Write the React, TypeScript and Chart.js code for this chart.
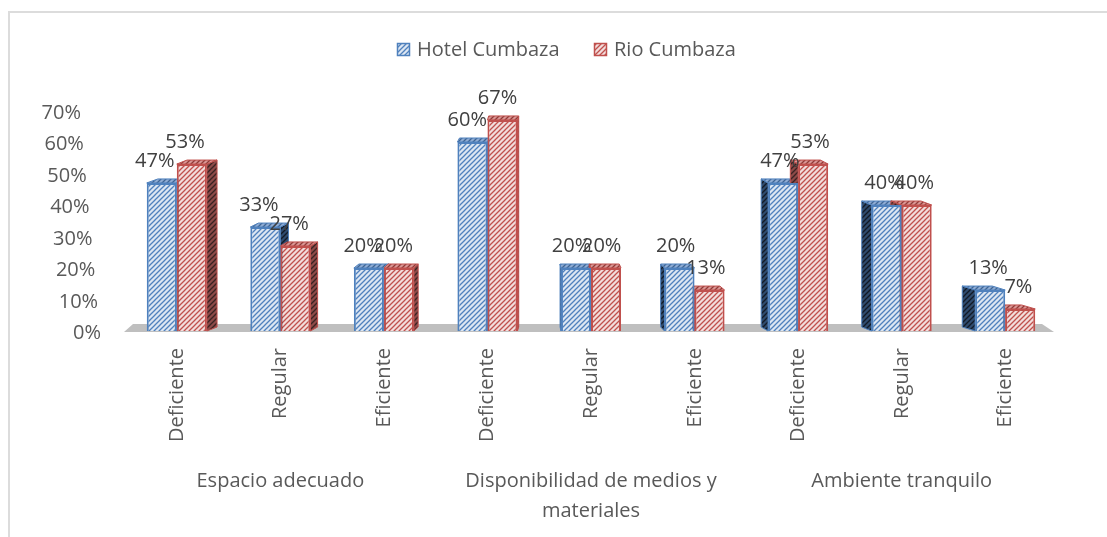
import React, { useEffect, useRef } from "react";
import { Chart, registerables } from "chart.js";

Chart.register(...registerables);

// ---------- data ----------
const categories = [
  "Deficiente", "Regular", "Eficiente",
  "Deficiente", "Regular", "Eficiente",
  "Deficiente", "Regular", "Eficiente",
];
const groupLabels = [
  ["Espacio adecuado"],
  ["Disponibilidad de medios y", "materiales"],
  ["Ambiente tranquilo"],
];
const seriesNames = ["Hotel Cumbaza", "Rio Cumbaza"];
const hotelValues = [47, 33, 20, 60, 20, 20, 47, 40, 13];
const rioValues = [53, 27, 20, 67, 20, 13, 53, 40, 7];
const yTicks = [0, 10, 20, 30, 40, 50, 60, 70];

// ---------- styles ----------
const FONT = '20px "Open Sans"';
const AXIS_COLOR = "#595959";
const LABEL_COLOR = "#404040";
const BLUE = "#4f81bd";
const RED = "#c0504d";
const VP = 545;
const K = 0.029;
const DY = 4;

function makePattern(bg: string, fg: string, size = 5, lw = 1.3): CanvasPattern {
  const c = document.createElement("canvas");
  c.width = size;
  c.height = size;
  const g = c.getContext("2d")!;
  g.fillStyle = bg;
  g.fillRect(0, 0, size, size);
  g.strokeStyle = fg;
  g.lineWidth = lw;
  g.beginPath();
  g.moveTo(-1, size + 1);
  g.lineTo(size + 1, -1);
  g.moveTo(-1, 1);
  g.lineTo(1, -1);
  g.moveTo(size - 1, size + 1);
  g.lineTo(size + 1, size - 1);
  g.stroke();
  return g.createPattern(c, "repeat")!;
}

export default function App() {
  const ref = useRef<HTMLCanvasElement | null>(null);

  useEffect(() => {
    const canvas = ref.current!;
    const frontBlue = makePattern("#dce6f2", BLUE);
    const frontRed = makePattern("#f2dcdb", RED);
    const sideBlue = makePattern("#2f4b6e", "#121a26");
    const sideRed = makePattern("#8c4a48", "#3a2222");
    const topBlue = makePattern("#8eabd3", "#3f6594");
    const topRed = makePattern("#d99694", "#8f3a38");
    const sidePat = [sideBlue, sideRed];
    const topPat = [topBlue, topRed];
    const edge = [BLUE, RED];

    const threeD = {
      id: "threeD",
      beforeDatasetsDraw(chart: any) {
        const ctx = chart.ctx as CanvasRenderingContext2D;
        const { left, right } = chart.chartArea;
        const y0 = chart.scales.y.getPixelForValue(0);
        ctx.save();
        // floor
        ctx.fillStyle = "#bfbfbf";
        ctx.beginPath();
        ctx.moveTo(left - 1, y0 + 1);
        ctx.lineTo(left + 8, y0 - 7);
        ctx.lineTo(right - 15, y0 - 7);
        ctx.lineTo(right - 3, y0 + 1);
        ctx.closePath();
        ctx.fill();
        // side + top faces
        chart.data.datasets.forEach((_ds: any, di: number) => {
          const meta = chart.getDatasetMeta(di);
          meta.data.forEach((bar: any) => {
            const { x, y, base, width } = bar.getProps(["x", "y", "base", "width"], true);
            const xl = x - width / 2;
            const xr = x + width / 2;
            const dx = K * (VP - x);
            const xe = dx >= 0 ? xr : xl;
            ctx.lineWidth = 1;
            ctx.strokeStyle = edge[di];
            // side
            ctx.fillStyle = sidePat[di];
            ctx.beginPath();
            ctx.moveTo(xe, y);
            ctx.lineTo(xe + dx, y - DY);
            ctx.lineTo(xe + dx, base - DY);
            ctx.lineTo(xe, base);
            ctx.closePath();
            ctx.fill();
            ctx.stroke();
            // top
            ctx.fillStyle = topPat[di];
            ctx.beginPath();
            ctx.moveTo(xl, y);
            ctx.lineTo(xr, y);
            ctx.lineTo(xr + dx, y - DY);
            ctx.lineTo(xl + dx, y - DY);
            ctx.closePath();
            ctx.fill();
            ctx.stroke();
          });
        });
        ctx.restore();
      },
      afterDatasetsDraw(chart: any) {
        const ctx = chart.ctx as CanvasRenderingContext2D;
        const yScale = chart.scales.y;
        const xScale = chart.scales.x;
        ctx.save();
        ctx.font = FONT;
        // data labels
        ctx.fillStyle = LABEL_COLOR;
        ctx.textAlign = "center";
        ctx.textBaseline = "alphabetic";
        chart.data.datasets.forEach((ds: any, di: number) => {
          const meta = chart.getDatasetMeta(di);
          meta.data.forEach((bar: any, i: number) => {
            const { x, y } = bar.getProps(["x", "y"], true);
            const lx = x - 7 + (x - 160) * 0.006;
            ctx.fillText(`${ds.data[i]}%`, lx, y - 16);
          });
        });
        // y ticks (slanted back wall)
        ctx.fillStyle = AXIS_COLOR;
        ctx.textAlign = "right";
        yTicks.forEach((v) => {
          const py = yScale.getPixelForValue(v);
          ctx.fillText(`${v}%`, 101 - v * (20 / 70), py + 8);
        });
        // category labels (rotated)
        categories.forEach((c, i) => {
          const px = xScale.getPixelForValue(i);
          ctx.save();
          ctx.translate(px + 6, 348);
          ctx.rotate(-Math.PI / 2);
          ctx.textAlign = "right";
          ctx.fillText(c, 0, 0);
          ctx.restore();
        });
        // group labels
        ctx.textAlign = "center";
        groupLabels.forEach((lines, g) => {
          const px = xScale.getPixelForValue(g * 3 + 1);
          lines.forEach((ln, li) => {
            ctx.fillText(ln, px, 487 + li * 30);
          });
        });
        // legend
        const legendItems = [
          { x: 397, text: seriesNames[0], fill: frontBlue, stroke: BLUE },
          { x: 594, text: seriesNames[1], fill: frontRed, stroke: RED },
        ];
        ctx.textAlign = "left";
        legendItems.forEach((it) => {
          ctx.fillStyle = it.fill;
          ctx.fillRect(it.x, 43, 13, 13);
          ctx.strokeStyle = it.stroke;
          ctx.lineWidth = 1.5;
          ctx.strokeRect(it.x + 0.5, 43.5, 12, 12);
          ctx.fillStyle = AXIS_COLOR;
          ctx.fillText(it.text, it.x + 20, 56);
        });
        ctx.restore();
      },
    };

    const chart = new Chart(canvas, {
      type: "bar",
      data: {
        labels: categories,
        datasets: [
          {
            label: seriesNames[0],
            data: hotelValues,
            backgroundColor: frontBlue as any,
            borderColor: BLUE,
            borderWidth: 2,
          },
          {
            label: seriesNames[1],
            data: rioValues,
            backgroundColor: frontRed as any,
            borderColor: RED,
            borderWidth: 2,
          },
        ],
      },
      options: {
        responsive: false,
        animation: false,
        devicePixelRatio: 1,
        layout: { padding: { left: 125, right: 50, top: 110.5, bottom: 206 } },
        plugins: { legend: { display: false }, tooltip: { enabled: false } },
        datasets: { bar: { categoryPercentage: 0.58, barPercentage: 1 } },
        scales: {
          x: { display: false, offset: true },
          y: { display: false, min: 0, max: 70 },
        },
      },
      plugins: [threeD],
    });
    return () => chart.destroy();
  }, []);

  return (
    <>
      <canvas
        ref={ref}
        width={1107}
        height={537}
        style={{ position: "fixed", left: 0, top: 0, width: 1107, height: 537 }}
      />
      <div
        style={{
          position: "fixed",
          left: 8,
          top: 11,
          width: 1097,
          height: 524,
          borderTop: "2px solid #dcdcdc",
          borderLeft: "2px solid #dcdcdc",
          pointerEvents: "none",
        }}
      />
    </>
  );
}
